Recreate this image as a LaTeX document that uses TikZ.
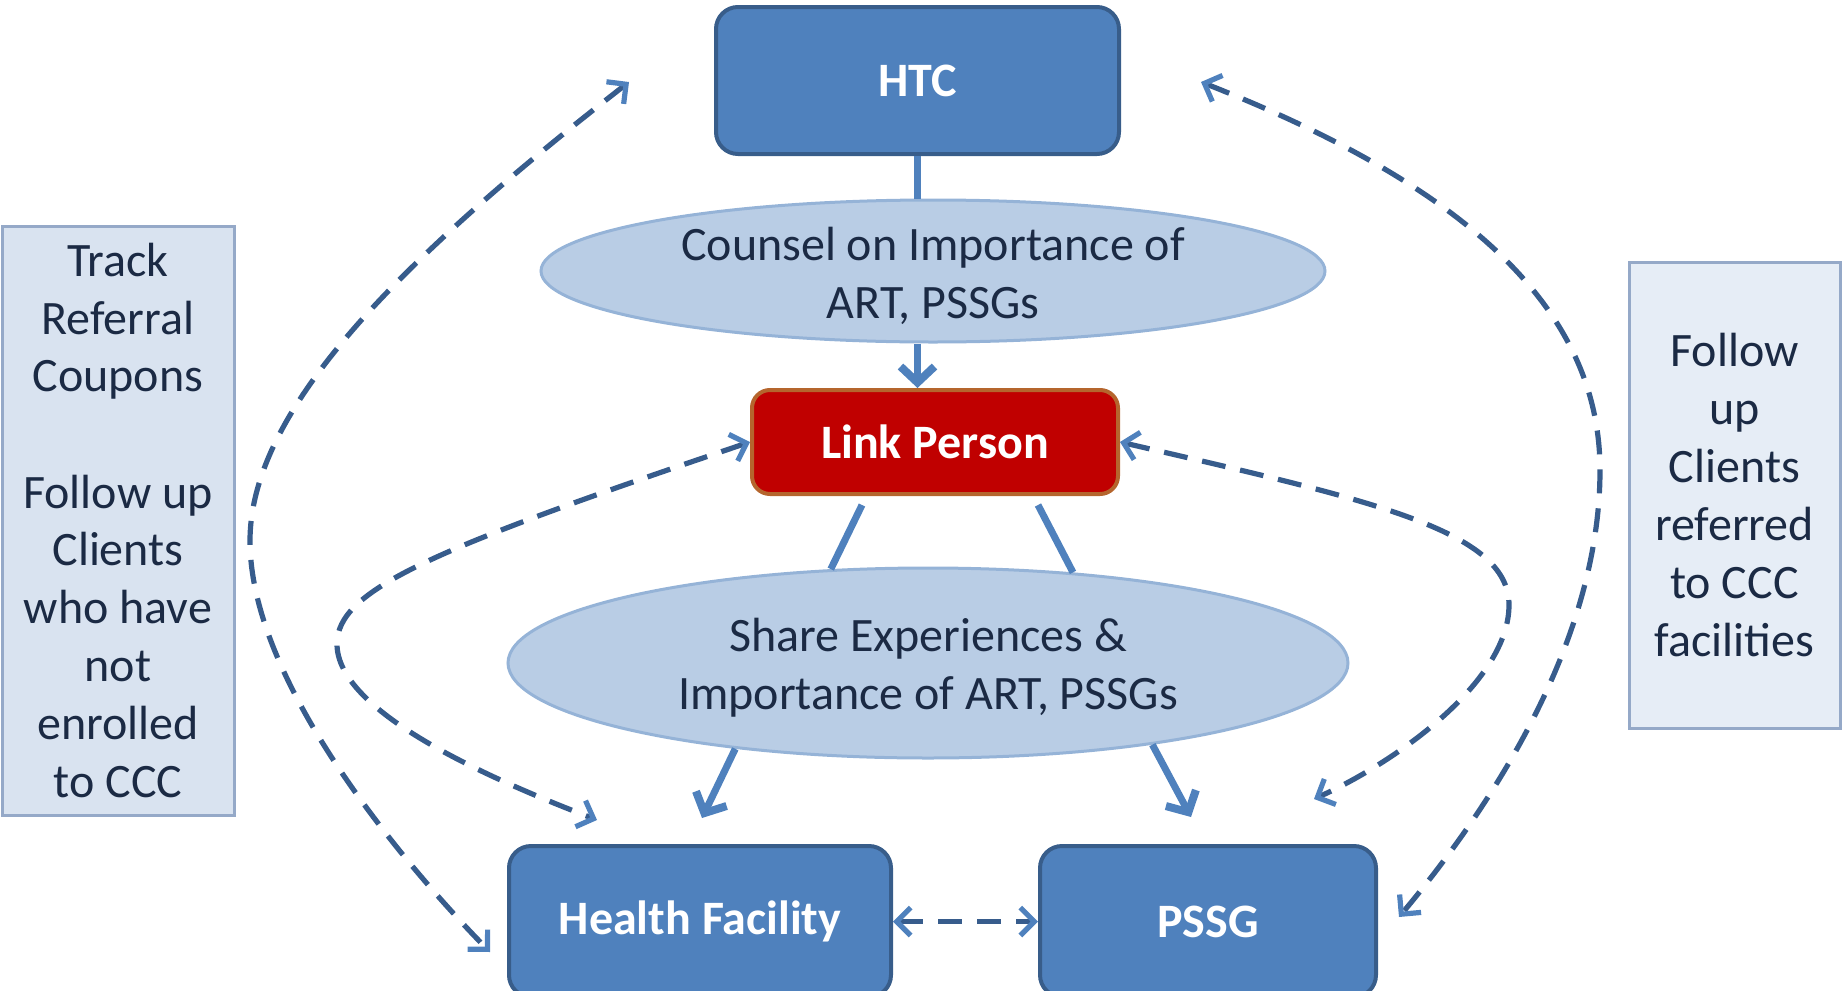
\documentclass[tikz,border=0pt]{standalone}
\usepackage{fontspec}
\setmainfont{Carlito}
\usetikzlibrary{arrows.meta,shapes.geometric,calc}
\definecolor{boxblue}{HTML}{4F81BD}
\definecolor{boxedge}{HTML}{385D8A}
\definecolor{ellfill}{HTML}{B9CDE5}
\definecolor{elledge}{HTML}{95B3D7}
\definecolor{linkred}{HTML}{C00000}
\definecolor{linkedge}{HTML}{B5652D}
\definecolor{sidefillL}{HTML}{D9E3F0}
\definecolor{sidefillR}{HTML}{E6EDF6}
\definecolor{sideedge}{HTML}{95A9C8}
\definecolor{darktext}{HTML}{1B2A44}
\definecolor{dashblue}{HTML}{375C8C}
\tikzset{
  mainbox/.style={draw=boxedge, fill=boxblue, line width=2pt, rounded corners=11pt,
    text=white, font=\fontsize{24}{29}\selectfont\bfseries, inner sep=0pt},
  linkbox/.style={draw=linkedge, fill=linkred, line width=2pt, rounded corners=9pt,
    text=white, font=\fontsize{24}{29}\selectfont\bfseries, inner sep=0pt},
  ellnode/.style={ellipse, draw=elledge, fill=ellfill, line width=1.5pt, inner sep=0pt},
  elltext/.style={text=darktext, align=center, font=\fontsize{24}{29}\selectfont, inner sep=0pt},
  sidebox/.style={draw=sideedge, line width=1.5pt, inner sep=0pt,
    text=darktext, align=center, font=\fontsize{24}{29}\selectfont},
  conn/.style={draw=boxblue, line width=3.5pt},
  connarrow/.style={conn, -{Straight Barb[length=8pt,width=17pt,line width=4pt]}},
  dashconn/.style={draw=dashblue, line width=2.6pt, dash pattern=on 12pt off 7.5pt,
    {Straight Barb[length=7pt,width=14pt,color=boxblue]}-{Straight Barb[length=7pt,width=14pt,color=boxblue]}},
}
\begin{document}
\begin{tikzpicture}[x=0.5pt,y=-0.5pt]
\useasboundingbox (0,0) rectangle (1843,991);

% nodes
\node[mainbox, minimum width=201.5pt, minimum height=73.5pt] (htc) at (917.5,80.5) {HTC};
\node[ellnode, minimum width=392pt, minimum height=71pt] (counsel) at (933,271) {};
\node[elltext] (counseltext) at (933,276) {Counsel on Importance of\\ART, PSSGs};
\node[linkbox, minimum width=183pt, minimum height=52pt] (link) at (935,442) {Link Person};
\node[ellnode, minimum width=420pt, minimum height=95pt] (share) at (928,663) {};
\node[elltext] (sharetext) at (928,668) {Share Experiences \&\\Importance of ART, PSSGs};
\node[mainbox, minimum width=191pt, minimum height=75.5pt] (hf) at (700,921.5) {Health Facility};
\node[mainbox, minimum width=168pt, minimum height=75.5pt] (pssg) at (1208,921.5) {PSSG};
\node[sidebox, fill=sidefillL, minimum width=116pt, minimum height=294.5pt] (left) at (118,520.5)
  {Track\\Referral\\Coupons\\[29pt]Follow up\\Clients\\who have\\not\\enrolled\\to CCC};
\node[sidebox, fill=sidefillR, minimum width=105.5pt, minimum height=233pt] (right) at (1734.5,495)
  {Follow\\up\\Clients\\referred\\to CCC\\facilities};

% solid connectors
\draw[conn] (htc.south) -- (htc.south |- counsel.north);
\draw[connarrow] (htc.south |- counsel.south) -- (htc.south |- link.north);
\coordinate (l1) at ($(link.south)+(-73,9)$);
\coordinate (l2) at ($(link.south)+(103,9)$);
\draw[conn] (l1) -- (share.136.5);
\draw[conn] (l2) -- (share.32.5);
\coordinate (hftip) at ($(hf.north)+(2,-26)$);
\coordinate (pstip) at ($(pssg.north)+(-17,-27)$);
\draw[connarrow] (share.204.4) -- (hftip);
\draw[connarrow] (share.340.1) -- (pstip);

% dashed connectors
\draw[dashconn] (hf.east) -- (pssg.west);

\coordinate (aTop) at (629,82);
\coordinate (aBot) at (490,952);
\draw[dashconn] (aTop) .. controls (400,260) and (250,410) .. (250,541)
  .. controls (250,680) and (400,860) .. (aBot);

\coordinate (bBot) at (597,820);
\draw[dashconn] (link.west) .. controls (430,550) and (337,590) .. (337,644)
  .. controls (337,710) and (480,775) .. (bBot);

\coordinate (cBot) at (1314,799);
\draw[dashconn] (link.east) .. controls (1370,500) and (1509,530) .. (1509,605)
  .. controls (1509,680) and (1400,760) .. (cBot);

\coordinate (dTop) at (1201,82);
\coordinate (dBot) at (1399,917);
\draw[dashconn] (dTop) .. controls (1450,180) and (1600,300) .. (1600,470)
  .. controls (1600,650) and (1480,820) .. (dBot);
\end{tikzpicture}
\end{document}
